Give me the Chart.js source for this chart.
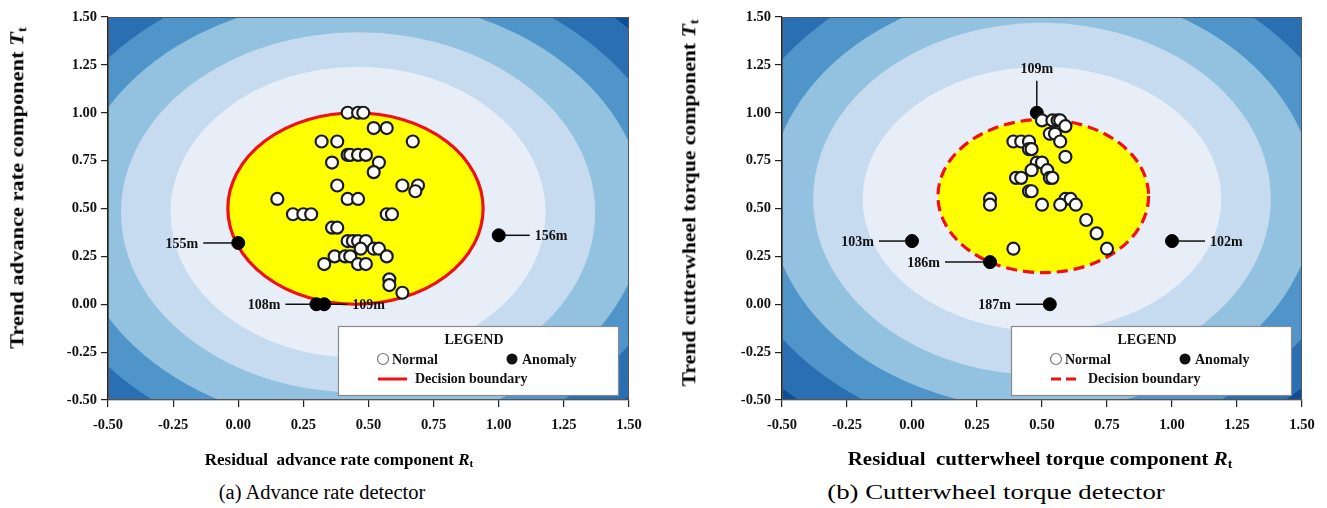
<!DOCTYPE html>
<html>
<head>
<meta charset="utf-8">
<script src="https://cdn.jsdelivr.net/npm/chart.js@4.4.1/dist/chart.umd.min.js"></script>
<style>
  body { margin: 0; background: #fff; width: 1327px; height: 508px; position: relative; overflow: hidden;
         font-family: "Liberation Serif", "Times New Roman", serif; color: #000; }
  .wrap { position: absolute; top: 0; height: 475px; }
  #wrapA { left: 0; width: 663px; }
  #wrapB { left: 674px; width: 653px; }
  .ytitle, .xtitle, .caption { position: absolute; white-space: nowrap; line-height: 1; }
  .ytitle { font-weight: bold; font-size: 19px; transform: translate(-50%, -50%) rotate(-90deg) scaleX(1.18); }
  .xtitle { font-weight: bold; font-size: 17px; transform: translate(-50%, -50%); }
  .caption { font-size: 20.5px; transform: translate(-50%, -50%); }
  sub { font-size: 65%; vertical-align: -0.25em; }
</style>
</head>
<body>
<div class="wrap" id="wrapA"><canvas id="chartA" width="663" height="475"></canvas></div>
<div class="wrap" id="wrapB"><canvas id="chartB" width="653" height="475"></canvas></div>

<div class="ytitle" style="left:18px; top:188px;">Trend advance rate component <i>T</i><sub>t</sub></div>
<div class="ytitle" style="left:690px; top:203px; transform: translate(-50%, -50%) rotate(-90deg) scaleX(1.14);">Trend cutterwheel torque component <i>T</i><sub>t</sub></div>
<div class="xtitle" style="left:339px; top:460px;">Residual&nbsp; advance rate component <i>R</i><sub>t</sub></div>
<div class="xtitle" style="left:1040px; top:460px; font-size:18.5px; transform: translate(-50%, -50%) scaleX(1.13);">Residual&nbsp; cutterwheel torque component <i>R</i><sub>t</sub></div>
<div class="caption" style="left:322px; top:492px;">(a) Advance rate detector</div>
<div class="caption" style="left:996px; top:492px; font-size:22px; transform: translate(-50%, -50%) scaleX(1.22);">(b) Cutterwheel torque detector</div>

<script>
// axis ticks (both panels)
const xTicks = [-0.5, -0.25, 0, 0.25, 0.5, 0.75, 1, 1.25, 1.5];
const yTicks = [-0.5, -0.25, 0, 0.25, 0.5, 0.75, 1, 1.25, 1.5];

// (a) advance rate detector
const normalA = [
  [0.42, 1.00], [0.46, 1.00], [0.48, 1.00],
  [0.52, 0.92], [0.57, 0.92],
  [0.32, 0.85], [0.38, 0.85], [0.67, 0.85],
  [0.42, 0.78], [0.43, 0.78], [0.46, 0.78], [0.49, 0.78],
  [0.36, 0.74], [0.54, 0.74],
  [0.52, 0.69],
  [0.38, 0.62], [0.63, 0.62], [0.69, 0.62],
  [0.68, 0.59],
  [0.15, 0.55], [0.42, 0.55], [0.46, 0.55],
  [0.21, 0.47], [0.25, 0.47], [0.28, 0.47], [0.57, 0.47], [0.59, 0.47],
  [0.36, 0.40], [0.38, 0.40],
  [0.42, 0.33], [0.44, 0.33], [0.46, 0.33], [0.49, 0.33],
  [0.47, 0.29], [0.52, 0.29], [0.54, 0.29],
  [0.37, 0.25], [0.41, 0.25], [0.43, 0.25], [0.57, 0.25],
  [0.33, 0.21], [0.46, 0.21], [0.49, 0.21],
  [0.58, 0.13], [0.58, 0.10],
  [0.63, 0.06]
];
const anomalyA = [[0.00, 0.32], [1.00, 0.36], [0.30, 0.00], [0.33, 0.00]];
const anomalyLabelsA = ['155m', '156m', '108m', '109m'];
const boundaryA = [0.45, 0.50, 0.49, 0.50];          // centre x, centre y, radius x, radius y
const contourCentreA = [0.46, 0.48];
const contourRadiiA = [[0.72, 0.76], [0.91, 0.94], [1.10, 1.12], [1.24, 1.27], [1.40, 1.43]];

// (b) cutterwheel torque detector
const normalB = [
  [0.50, 0.96], [0.54, 0.96], [0.56, 0.96], [0.57, 0.96],
  [0.59, 0.93],
  [0.53, 0.89], [0.55, 0.89],
  [0.39, 0.85], [0.42, 0.85], [0.45, 0.85], [0.57, 0.85],
  [0.45, 0.81], [0.46, 0.81],
  [0.59, 0.77],
  [0.48, 0.74], [0.50, 0.74],
  [0.46, 0.70], [0.52, 0.70],
  [0.40, 0.66], [0.42, 0.66], [0.53, 0.66], [0.54, 0.66],
  [0.45, 0.59], [0.46, 0.59],
  [0.30, 0.55], [0.30, 0.52], [0.50, 0.52],
  [0.59, 0.55], [0.61, 0.55], [0.57, 0.52], [0.63, 0.52],
  [0.67, 0.44], [0.71, 0.37], [0.75, 0.29], [0.39, 0.29]
];
const anomalyB = [[0.48, 1.00], [0.00, 0.33], [1.00, 0.33], [0.30, 0.22], [0.53, 0.00]];
const anomalyLabelsB = ['109m', '103m', '102m', '186m', '187m'];
const boundaryB = [0.505, 0.565, 0.405, 0.40];
const contourCentreB = [0.50, 0.55];
const contourRadiiB = [[0.69, 0.69], [0.88, 0.92], [1.05, 1.10], [1.22, 1.27], [1.38, 1.43]];

// styling
const bandColors = ['#0d4f96', '#2b6fb3', '#4f95ca', '#93c2e0', '#c6dbef', '#e7eef8']; // outer -> inner
const FONT = '"Liberation Serif", "Times New Roman", serif';
const labelSidesA = ['left', 'right', 'left', 'right'];
const labelSidesB = ['up', 'left', 'right', 'left', 'left'];
const leaderA = [29, 25, 25, 17];
const leaderB = [26, 27, 27, 39, 28];

function toXY(arr) { return arr.map(p => ({ x: p[0], y: p[1] })); }

function ellipsePath(ctx, xs, ys, c, r) {
  const cx = xs.getPixelForValue(c[0]);
  const cy = ys.getPixelForValue(c[1]);
  const rx = xs.getPixelForValue(c[0] + r[0]) - cx;
  const ry = cy - ys.getPixelForValue(c[1] + r[1]);
  ctx.beginPath();
  ctx.ellipse(cx, cy, rx, ry, 0, 0, Math.PI * 2);
}

function decorPlugin(opt) {
  return {
    id: 'decor',
    beforeDatasetsDraw(chart) {
      const { ctx, chartArea: a, scales: { x, y } } = chart;
      ctx.save();
      ctx.beginPath();
      ctx.rect(a.left, a.top, a.width, a.height);
      ctx.clip();
      ctx.fillStyle = bandColors[0];
      ctx.fillRect(a.left, a.top, a.width, a.height);
      for (let i = opt.radii.length - 1; i >= 0; i--) {
        ellipsePath(ctx, x, y, opt.centre, opt.radii[i]);
        ctx.fillStyle = bandColors[bandColors.length - 1 - i];
        ctx.fill();
      }
      const b = opt.boundary;
      ellipsePath(ctx, x, y, [b[0], b[1]], [b[2], b[3]]);
      ctx.fillStyle = '#ffff00';
      ctx.fill();
      ctx.strokeStyle = '#f01010';
      ctx.lineWidth = 3.2;
      ctx.setLineDash(opt.dashed ? [11, 6] : []);
      ctx.stroke();
      ctx.restore();
    },
    afterDatasetsDraw(chart) {
      const { ctx, chartArea: a, scales: { x, y } } = chart;
      ctx.save();
      // frame
      ctx.strokeStyle = '#555';
      ctx.lineWidth = 1;
      ctx.strokeRect(a.left + 0.5, a.top + 0.5, a.width - 1, a.height - 1);

      // anomaly labels
      ctx.font = 'bold 14px ' + FONT;
      ctx.fillStyle = '#111';
      ctx.strokeStyle = '#111';
      ctx.lineWidth = 1.5;
      ctx.textBaseline = 'middle';
      opt.anomaly.forEach((p, i) => {
        const px = x.getPixelForValue(p[0]);
        const py = y.getPixelForValue(p[1]);
        const side = opt.sides[i];
        const L = opt.leader[i];
        ctx.beginPath();
        if (side === 'left') {
          ctx.moveTo(px - 6, py); ctx.lineTo(px - 6 - L, py); ctx.stroke();
          ctx.textAlign = 'right';
          ctx.fillText(opt.labels[i], px - 11 - L, py + 1);
        } else if (side === 'right') {
          ctx.moveTo(px + 6, py); ctx.lineTo(px + 6 + L, py); ctx.stroke();
          ctx.textAlign = 'left';
          ctx.fillText(opt.labels[i], px + 11 + L, py + 1);
        } else {
          ctx.moveTo(px, py - 6); ctx.lineTo(px, py - 6 - L); ctx.stroke();
          ctx.textAlign = 'center';
          ctx.fillText(opt.labels[i], px, py - 17 - L);
        }
      });

      // legend box
      const w = 280, h = 69;
      const lx = a.right - 11 - w, ly = a.bottom - 5 - h;
      ctx.fillStyle = '#fff';
      ctx.fillRect(lx, ly, w, h);
      ctx.strokeStyle = '#8a8a8a';
      ctx.lineWidth = 1.2;
      ctx.strokeRect(lx + 0.5, ly + 0.5, w, h);
      ctx.fillStyle = '#111';
      ctx.textAlign = 'center';
      ctx.fillText('LEGEND', lx + 136, ly + 14);
      ctx.textAlign = 'left';
      ctx.beginPath();
      ctx.arc(lx + 45, ly + 33, 5.5, 0, Math.PI * 2);
      ctx.fillStyle = '#fff'; ctx.fill();
      ctx.strokeStyle = '#777'; ctx.lineWidth = 1.2; ctx.stroke();
      ctx.fillStyle = '#111';
      ctx.fillText('Normal', lx + 54, ly + 34);
      ctx.beginPath();
      ctx.arc(lx + 174, ly + 33, 5.5, 0, Math.PI * 2);
      ctx.fill();
      ctx.fillText('Anomaly', lx + 184, ly + 34);
      ctx.beginPath();
      ctx.strokeStyle = '#f01010';
      ctx.lineWidth = 3;
      ctx.setLineDash(opt.dashed ? [10, 5] : []);
      ctx.moveTo(lx + 40, ly + 53);
      ctx.lineTo(lx + 69, ly + 53);
      ctx.stroke();
      ctx.setLineDash([]);
      ctx.fillText('Decision boundary', lx + 77, ly + 53);
      ctx.restore();
    }
  };
}

function makeChart(id, normal, anomaly, labels, sides, leader, boundary, centre, radii, dashed, rightPad) {
  const axis = (isX) => ({
    type: 'linear',
    min: -0.5,
    max: 1.5,
    afterBuildTicks: s => { s.ticks = (isX ? xTicks : yTicks).map(v => ({ value: v })); },
    afterFit: s => { if (isX) s.height = 75; else s.width = 108; },
    grid: { drawOnChartArea: false, drawTicks: true, tickLength: 7, tickColor: '#222', lineWidth: 1.2 },
    border: { display: true, color: '#222', width: 1.2 },
    ticks: {
      padding: isX ? 10 : 4,
      color: '#111',
      font: { family: FONT, size: 14.5, weight: 'bold' },
      callback: v => v.toFixed(2)
    }
  });
  return new Chart(document.getElementById(id), {
    type: 'scatter',
    data: {
      datasets: [
        {
          label: 'Normal',
          data: toXY(normal),
          pointRadius: 6,
          pointBackgroundColor: '#ffffff',
          pointBorderColor: '#1a1a1a',
          pointBorderWidth: 2.2
        },
        {
          label: 'Anomaly',
          data: toXY(anomaly),
          pointRadius: 6.5,
          pointBackgroundColor: '#000000',
          pointBorderColor: '#000000',
          pointBorderWidth: 1
        }
      ]
    },
    options: {
      responsive: false,
      animation: false,
      devicePixelRatio: 1,
      layout: { padding: { top: 17, right: rightPad, left: 0, bottom: 0 } },
      scales: { x: axis(true), y: axis(false) },
      plugins: { legend: { display: false }, tooltip: { enabled: false } }
    },
    plugins: [decorPlugin({ anomaly, labels, sides, leader, boundary, centre, radii, dashed })]
  });
}

makeChart('chartA', normalA, anomalyA, anomalyLabelsA, labelSidesA, leaderA, boundaryA, contourCentreA, contourRadiiA, false, 34);
makeChart('chartB', normalB, anomalyB, anomalyLabelsB, labelSidesB, leaderB, boundaryB, contourCentreB, contourRadiiB, true, 25);
</script>
</body>
</html>
